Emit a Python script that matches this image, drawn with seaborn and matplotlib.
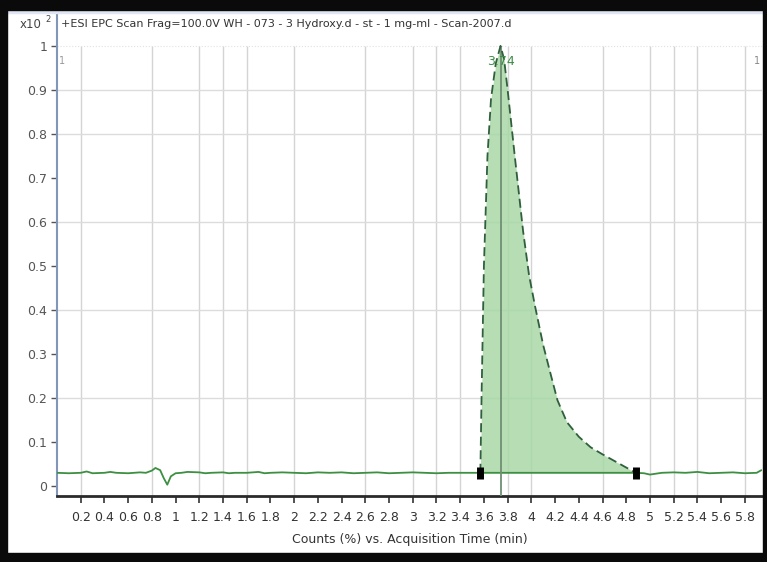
import matplotlib
matplotlib.use("Agg")
import matplotlib.pyplot as plt
import seaborn as sns
import pandas as pd
from matplotlib.patches import Rectangle

# ---------------- data ----------------
time_min = [0.00, 0.10, 0.20, 0.25, 0.30, 0.40, 0.45, 0.50, 0.60, 0.70, 0.75, 0.80,
            0.83, 0.87, 0.90, 0.93, 0.96, 1.00, 1.05, 1.10, 1.20, 1.25, 1.30, 1.40,
            1.45, 1.50, 1.60, 1.70, 1.75, 1.80, 1.90, 2.00, 2.10, 2.20, 2.30, 2.40,
            2.50, 2.60, 2.70, 2.80, 2.90, 3.00, 3.10, 3.20, 3.30, 3.40, 3.50, 3.57,
            3.70, 3.80, 3.90, 4.00, 4.20, 4.40, 4.60, 4.80, 4.88, 4.95, 5.00, 5.10,
            5.20, 5.30, 5.40, 5.50, 5.60, 5.70, 5.80, 5.90, 5.94]
counts = [0.030, 0.029, 0.030, 0.033, 0.029, 0.030, 0.032, 0.030, 0.029, 0.031, 0.030, 0.035,
          0.041, 0.036, 0.018, 0.003, 0.022, 0.029, 0.030, 0.032, 0.031, 0.029, 0.030, 0.031,
          0.029, 0.030, 0.030, 0.032, 0.029, 0.030, 0.031, 0.030, 0.029, 0.031, 0.030, 0.031,
          0.029, 0.030, 0.031, 0.029, 0.030, 0.031, 0.030, 0.029, 0.030, 0.030, 0.030, 0.030,
          0.030, 0.030, 0.030, 0.030, 0.030, 0.030, 0.030, 0.030, 0.030, 0.029, 0.026, 0.030,
          0.031, 0.030, 0.032, 0.029, 0.030, 0.031, 0.029, 0.030, 0.036]

peak_time = [3.57, 3.58, 3.60, 3.63, 3.66, 3.70, 3.74, 3.77, 3.80, 3.86, 3.93, 3.98,
             4.03, 4.10, 4.16, 4.22, 4.30, 4.40, 4.50, 4.60, 4.70, 4.80, 4.88]
peak_counts = [0.030, 0.200, 0.500, 0.750, 0.880, 0.960, 1.000, 0.970, 0.900, 0.750, 0.580, 0.480,
               0.410, 0.320, 0.257, 0.195, 0.145, 0.112, 0.088, 0.072, 0.057, 0.042, 0.030]
peak_rt = 3.74
peak_label = "3.74"
integration_start = 3.57
integration_end = 4.88
baseline_level = 0.03

x_ticks = [0.2, 0.4, 0.6, 0.8, 1.0, 1.2, 1.4, 1.6, 1.8, 2.0, 2.2, 2.4, 2.6, 2.8, 3.0,
           3.2, 3.4, 3.6, 3.8, 4.0, 4.2, 4.4, 4.6, 4.8, 5.0, 5.2, 5.4, 5.6, 5.8]
x_tick_labels = ["0.2", "0.4", "0.6", "0.8", "1", "1.2", "1.4", "1.6", "1.8", "2", "2.2", "2.4",
                 "2.6", "2.8", "3", "3.2", "3.4", "3.6", "3.8", "4", "4.2", "4.4", "4.6", "4.8",
                 "5", "5.2", "5.4", "5.6", "5.8"]
x_grid = [0.2, 0.8, 1.2, 1.4, 1.6, 2.0, 2.6, 3.0, 3.2, 3.4, 3.8, 4.0, 4.6, 5.0, 5.2, 5.4, 5.8]
y_ticks = [0, 0.1, 0.2, 0.3, 0.4, 0.5, 0.6, 0.7, 0.8, 0.9, 1.0]
y_tick_labels = ["0", "0.1", "0.2", "0.3", "0.4", "0.5", "0.6", "0.7", "0.8", "0.9", "1"]
y_grid = [0.2, 0.4, 0.6, 0.8, 0.9]

title_text = "+ESI EPC Scan Frag=100.0V WH - 073 - 3 Hydroxy.d - st - 1 mg-ml - Scan-2007.d"
x_label = "Counts (%) vs. Acquisition Time (min)"

# ---------------- style ----------------
sns.set_theme(style="white")
plt.rcParams["font.family"] = ["DejaVu Sans"]

fig = plt.figure(figsize=(7.67, 5.62), dpi=100)
fig.patch.set_facecolor("white")
W, H = 767, 562
ax = fig.add_axes([57 / W, 1 - 496 / H, (762 - 57) / W, (496 - 12) / H])
ax.set_facecolor("white")
ax.set_xlim(0.0, 5.945)
ax.set_ylim(-0.0227, 1.077)

# grid
ax.vlines(x_grid, -0.0227, 1.0, colors="#d4d4d4", linewidth=1.0, zorder=0)
ax.hlines(y_grid, 0, 5.945, colors="#dcdcdc", linewidth=1.0, zorder=0)
ax.hlines([1.0], 0, 5.945, colors="#e2e2e2", linewidth=0.8, linestyles=":", zorder=0)

# trace
df = pd.DataFrame({"t": time_min, "c": counts})
sns.lineplot(data=df, x="t", y="c", ax=ax, color="#3d8f42", linewidth=1.3, zorder=3,
             estimator=None, sort=False)

# peak
pk = pd.DataFrame({"t": peak_time, "c": peak_counts})
ax.fill_between(peak_time, baseline_level, peak_counts, color="#a9d8a6", alpha=0.85,
                linewidth=0, zorder=2)
sns.lineplot(data=pk, x="t", y="c", ax=ax, color="#2f5f3c", linewidth=1.3,
             linestyle=(0, (5, 2.5)), zorder=4, estimator=None, sort=False)
ax.vlines([peak_rt], -0.0227, 1.0, colors="#6f8f73", linewidth=1.3, zorder=3)
ax.vlines([integration_start, integration_end], baseline_level - 0.013,
          baseline_level + 0.013, colors="black", linewidth=5, zorder=5)
ax.text(peak_rt, 0.965, peak_label, ha="center", va="center", fontsize=9,
        color="#3c8c46", zorder=6)

# cursor markers
ax.text(0.04, 0.965, "1", ha="center", va="center", fontsize=7, color="#999999")
ax.text(5.90, 0.965, "1", ha="center", va="center", fontsize=7, color="#888888")

# title inside plot
ax.text(0.006, 0.985, title_text, transform=ax.transAxes, ha="left", va="top",
        fontsize=8, color="#333333")

# ticks
ax.set_xticks(x_ticks)
ax.set_xticklabels(x_tick_labels, fontsize=9, color="#333333")
ax.set_yticks(y_ticks)
ax.set_yticklabels(y_tick_labels, fontsize=9, color="#555555")
ax.tick_params(axis="x", direction="out", length=5, width=1.2, color="#333333", pad=6,
               bottom=True)
ax.tick_params(axis="y", direction="out", length=4, width=1.0, color="#555555", pad=3,
               left=True)
ax.set_xlabel(x_label, fontsize=9, color="#333333", labelpad=6)
ax.set_ylabel("")

for s in ["top", "right"]:
    ax.spines[s].set_visible(False)
ax.spines["left"].set_color("#8196b8")
ax.spines["left"].set_linewidth(1.5)
ax.spines["bottom"].set_color("#2a2a2a")
ax.spines["bottom"].set_linewidth(2.0)

# x10^2 multiplier
fig.text(20 / W, 1 - 24 / H, "x10", fontsize=8.5, color="#444444", ha="left", va="center")
fig.text(45 / W, 1 - 19 / H, "2", fontsize=6, color="#444444", ha="left", va="center")

# outer dark frame
frame = "#0a0a0a"
fig.patches.extend([
    Rectangle((0, 1 - 10 / H), 1, 10 / H, transform=fig.transFigure, color=frame, zorder=10),
    Rectangle((0, 0), 1, 9 / H, transform=fig.transFigure, color=frame, zorder=10),
    Rectangle((0, 0), 7 / W, 1, transform=fig.transFigure, color=frame, zorder=10),
    Rectangle((1 - 4 / W, 0), 4 / W, 1, transform=fig.transFigure, color=frame, zorder=10),
    Rectangle((0, 1 - 13 / H), 1, 3 / H, transform=fig.transFigure, color="#dfe5f3", zorder=9),
])

fig.savefig("out.png", dpi=100)
